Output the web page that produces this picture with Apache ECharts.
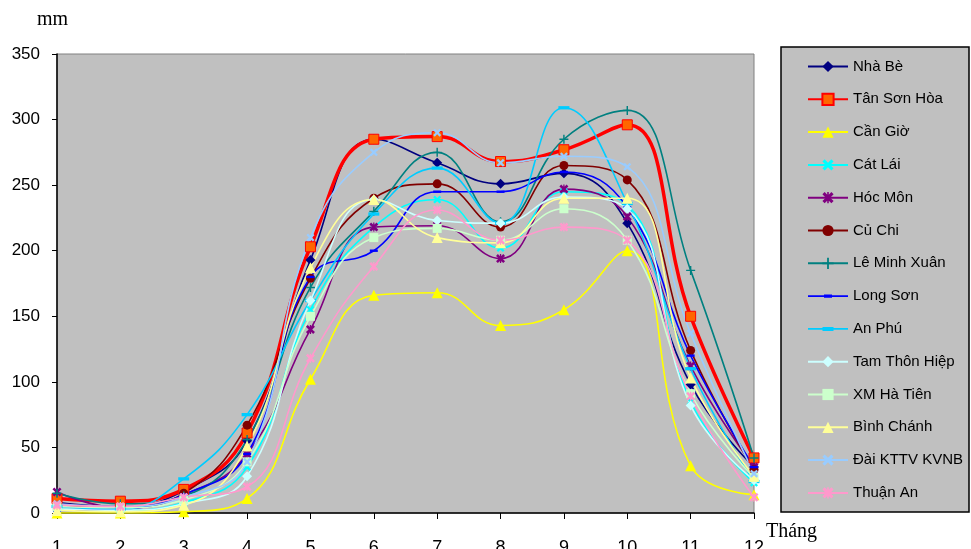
<!DOCTYPE html>
<html>
<head>
<meta charset="utf-8">
<script src="https://cdn.jsdelivr.net/npm/echarts@6/dist/echarts.min.js"></script>
<style>
html,body{margin:0;padding:0;background:#fff;}
#c{width:971px;height:549px;}
</style>
</head>
<body>
<div id="c"></div>
<script>
var months = ['1','2','3','4','5','6','7','8','9','10','11','12'];
var yTicks = [0, 50, 100, 150, 200, 250, 300, 350];

var nhaBe       = [8, 5, 17, 55, 193, 285, 267, 251, 259, 221, 98, 35];
var tanSonHoa   = [11, 9, 18, 61, 203, 285, 287, 268, 277, 296, 150, 42];
var canGio      = [0, 0, 1, 11, 102, 166, 168, 143, 155, 200, 36, 14];
var catLai      = [3, 2, 8, 35, 155, 218, 239, 202, 245, 235, 85, 23];
var hocMon      = [16, 4, 14, 45, 140, 218, 219, 194, 247, 226, 112, 35];
var cuChi       = [6, 4, 15, 67, 179, 240, 251, 218, 265, 254, 124, 33];
var leMinhXuan  = [15, 7, 13, 56, 172, 230, 275, 222, 285, 307, 185, 42];
var longSon     = [2, 3, 14, 45, 180, 200, 245, 245, 260, 233, 120, 35];
var anPhu       = [5, 3, 26, 75, 162, 228, 263, 221, 309, 236, 110, 24];
var tamThonHiep = [3, 2, 7, 28, 162, 239, 223, 221, 241, 232, 82, 25];
var xmHaTien    = [5, 4, 10, 39, 150, 210, 217, 208, 232, 208, 91, 27];
var binhChanh   = [2, 1, 6, 51, 187, 239, 210, 206, 240, 240, 103, 28];
var daiKTTV     = [7, 5, 12, 39, 210, 275, 290, 267, 272, 264, 137, 30];
var thuanAn     = [6, 5, 12, 20, 118, 188, 231, 208, 218, 208, 89, 12];

var X = 'path://M2,0L5,3L8,0L10,2L7,5L10,8L8,10L5,7L2,10L0,8L3,5L0,2Z';
var PLUS = 'path://M4.2,0H5.8V4.2H10V5.8H5.8V10H4.2V5.8H0V4.2H4.2Z';
var STAR = 'path://M4.3,0H5.7V10H4.3Z M2,0L5,3L8,0L10,2L7,5L10,8L8,10L5,7L2,10L0,8L3,5L0,2Z';
var DASH = 'path://M0,3.5H10V6.5H0Z';

var defs = [
  {name:'Nhà Bè', data:nhaBe, color:'#000080', symbol:'diamond', size:10},
  {name:'Tân Sơn Hòa', data:tanSonHoa, color:'#FF0000', symbol:'rect', size:10, fill:'#FF6600', width:3.5},
  {name:'Cần Giờ', data:canGio, color:'#FFFF00', symbol:'triangle', size:11},
  {name:'Cát Lái', data:catLai, color:'#00FFFF', symbol:X, size:8},
  {name:'Hóc Môn', data:hocMon, color:'#800080', symbol:STAR, size:9},
  {name:'Củ Chi', data:cuChi, color:'#800000', symbol:'circle', size:9},
  {name:'Lê Minh Xuân', data:leMinhXuan, color:'#008080', symbol:PLUS, size:9},
  {name:'Long Sơn', data:longSon, color:'#0000FF', symbol:DASH, size:8, legendIcon:'path://M0,6.2H40V7.8H0Z M16,5.3H24V8.7H16Z'},
  {name:'An Phú', data:anPhu, color:'#00CCFF', symbol:DASH, size:11, legendIcon:'path://M0,6.2H40V7.8H0Z M14.5,5H25.5V9H14.5Z'},
  {name:'Tam Thôn Hiệp', data:tamThonHiep, color:'#CCFFFF', symbol:'diamond', size:10},
  {name:'XM Hà Tiên', data:xmHaTien, color:'#CCFFCC', symbol:'rect', size:9},
  {name:'Bình Chánh', data:binhChanh, color:'#FFFF99', symbol:'triangle', size:11},
  {name:'Đài KTTV KVNB', data:daiKTTV, color:'#99CCFF', symbol:X, size:8},
  {name:'Thuận An', data:thuanAn, color:'#FF99CC', symbol:STAR, size:9}
];

var series = defs.map(function(d){
  return {
    name: d.name,
    type: 'line',
    data: d.data,
    smooth: 0.45,
    symbol: d.symbol,
    symbolSize: d.size,
    symbolKeepAspect: true,
    showAllSymbol: true,
    lineStyle: {color: d.color, width: d.width || 1.6},
    itemStyle: {color: d.fill || d.color, borderColor: d.color, borderWidth: d.fill ? 1 : 0, opacity: 1},
    emphasis: {disabled: true}
  };
});

var chart = echarts.init(document.getElementById('c'), null, {renderer:'canvas'});
chart.setOption({
  animation: false,
  backgroundColor: '#FFFFFF',
  grid: {left: 57, top: 54, right: 217, bottom: 36, containLabel: false, outerBoundsMode: 'none', show: true, backgroundColor: '#C0C0C0', borderColor: '#808080', borderWidth: 1},
  xAxis: {
    type: 'category',
    data: months,
    boundaryGap: false,
    axisLine: {lineStyle: {color: '#000', width: 1.5}},
    axisTick: {show: true, length: 6, lineStyle: {color: '#000'}},
    axisLabel: {margin: 26, color: '#000', fontFamily: 'Liberation Sans', fontSize: 18},
    splitLine: {show: false}
  },
  yAxis: {
    type: 'value',
    min: yTicks[0],
    max: yTicks[yTicks.length - 1],
    interval: 50,
    axisLine: {show: true, lineStyle: {color: '#000', width: 1.5}},
    axisTick: {show: true, length: 5, lineStyle: {color: '#000'}},
    axisLabel: {margin: 17, color: '#000', fontFamily: 'Liberation Sans', fontSize: 17},
    splitLine: {show: false}
  },
  legend: {
    orient: 'vertical',
    left: 807,
    top: 59,
    padding: 0,
    itemWidth: 40,
    itemHeight: 14,
    itemGap: 17.8,
    textStyle: {fontFamily: 'Liberation Sans', fontSize: 15, color: '#000', lineHeight: 14},
    data: defs.map(function(d){
      return d.legendIcon ? {name: d.name, icon: d.legendIcon} : d.name;
    }),
    z: 10
  },
  graphic: [
    {type: 'rect', z: 1, shape: {x: 781, y: 47, width: 188, height: 465}, style: {fill: '#C0C0C0', stroke: '#000', lineWidth: 1.5}},
    {type: 'text', z: 5, left: 37, top: 10, style: {text: 'mm', font: '20px "Liberation Serif"', fill: '#000'}},
    {type: 'text', z: 5, left: 766, top: 522, style: {text: 'Tháng', font: '20px "Liberation Serif"', fill: '#000'}}
  ],
  series: series
});
</script>
</body>
</html>
